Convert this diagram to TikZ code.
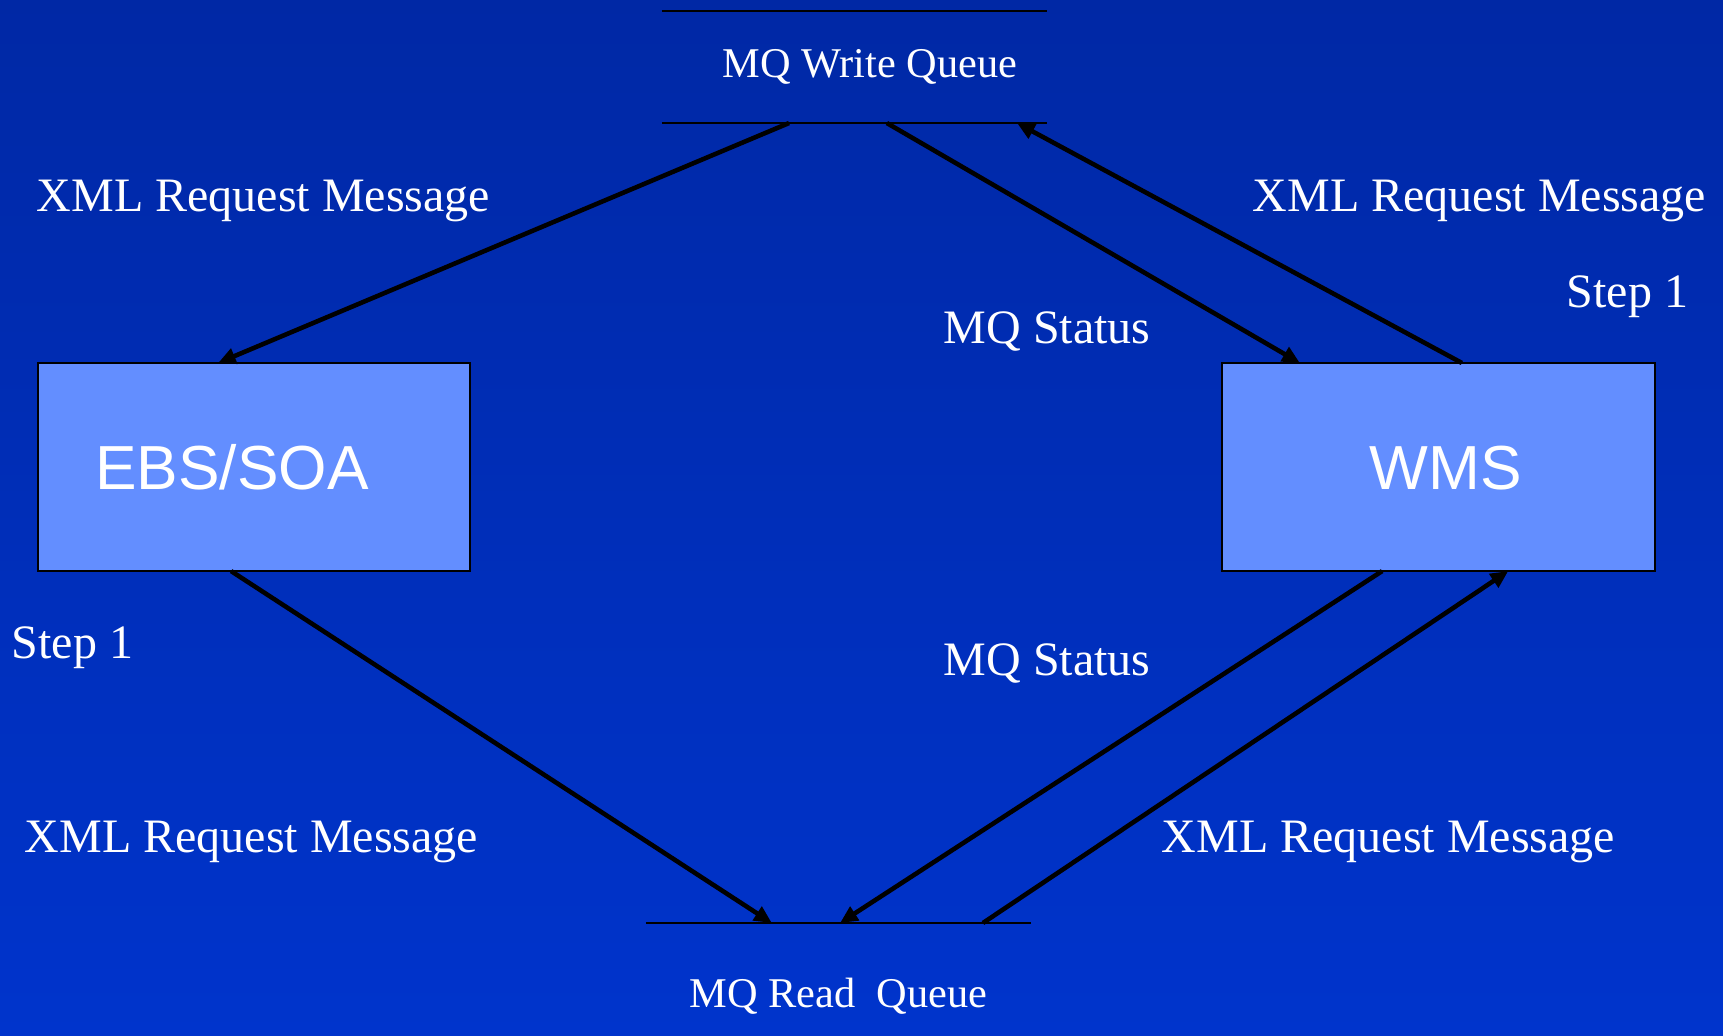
\documentclass[tikz,border=0pt]{standalone}
\usepackage{fontspec}
\setmainfont{Liberation Serif}
\setsansfont{Liberation Sans}
\usepackage{xcolor}
\definecolor{bgtop}{RGB}{0,40,165}
\definecolor{bgbottom}{RGB}{0,52,204}
\definecolor{boxfill}{RGB}{99,142,255}
\tikzset{sysbox/.style={draw=black,line width=0.5pt,fill=boxfill,minimum height=2.08cm,
   outer sep=0pt,inner sep=0pt,text=white,font=\sffamily\fontsize{17.7}{21}\selectfont,
   text height=12.7pt,text depth=0pt},
 queue/.style={minimum width=3.85cm,outer sep=0pt,inner sep=0pt,text=white,
   font=\fontsize{12.05}{14}\selectfont,text height=8.4pt,text depth=2.4pt},
 qline/.style={draw=black,line width=0.6pt},
 flow/.style={draw=black,line width=1.3pt,-{Triangle[length=5pt,width=4.5pt]}},
 lbl/.style={anchor=base west,inner sep=0pt,text=white,font=\fontsize{13.65}{16}\selectfont},
 }
\usetikzlibrary{calc}
\usetikzlibrary{arrows.meta}

\begin{document}
\begin{tikzpicture}[x=0.01cm,y=-0.01cm]
        \useasboundingbox (0,0) rectangle (1723,1035);
        \shade[top color=bgtop, bottom color=bgbottom] (0,0) rectangle (1723,1035);
        \node[queue, minimum height=1.12cm] (wq) at (854.5,67) {\hspace*{3.1mm}MQ Write Queue};
        \node[queue, minimum height=1.47cm] (rq) at (838.5,996.5) {MQ Read~~Queue};
        \draw[qline] (wq.north west) -- (wq.north east);
        \draw[qline] (wq.south west) -- (wq.south east);
        \draw[qline] (rq.north west) -- (rq.north east);
        \node[sysbox, minimum width=4.32cm] (ebs) at (254,467) {EBS/SOA\hspace*{4.4mm}};
        \node[sysbox, minimum width=4.33cm] (wms) at (1438.5,467) {\hspace*{1.5mm}WMS};
        \draw[flow] ($(wq.south west)!0.33!(wq.south east)$) -- ($(ebs.north west)!0.417!(ebs.north east)$);
        \draw[flow] ($(wq.south west)!0.584!(wq.south east)$) -- ($(wms.north west)!0.18!(wms.north east)$);
        \draw[flow] ($(wms.north west)!0.554!(wms.north east)$) -- ($(wq.south west)!0.922!(wq.south east)$);
        \draw[flow] ($(ebs.south west)!0.447!(ebs.south east)$) -- ($(rq.north west)!0.327!(rq.north east)$);
        \draw[flow] ($(wms.south west)!0.37!(wms.south east)$) -- ($(rq.north west)!0.504!(rq.north east)$);
        \draw[flow] ($(rq.north west)!0.875!(rq.north east)$) -- ($(wms.south west)!0.661!(wms.south east)$);
        \node[lbl] (reqtl) at (36,211) {XML Request Message};
        \node[lbl] (reqtr) at (1252,211) {XML Request Message};
        \node[lbl] (stepr) at (1566,307) {Step 1};
        \node[lbl] (statup) at (943,343) {MQ Status};
        \node[lbl] (stepl) at (11,658) {Step 1};
        \node[lbl] (statdn) at (943,675) {MQ Status};
        \node[lbl] (reqbl) at (24,852) {XML Request Message};
        \node[lbl] (reqbr) at (1161,852) {XML Request Message};
\end{tikzpicture}
\end{document}
